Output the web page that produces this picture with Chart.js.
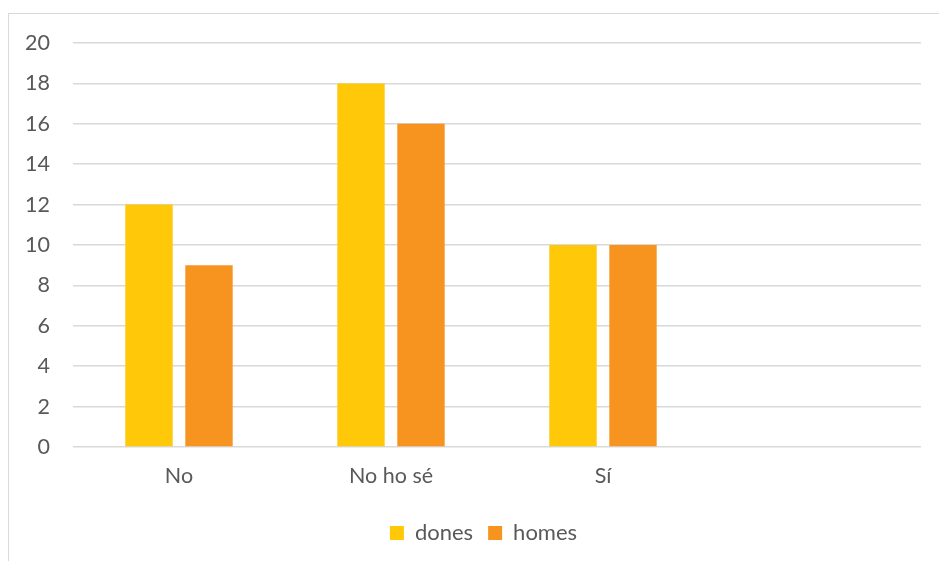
<!DOCTYPE html>
<html>
<head>
<meta charset="utf-8">
<script src="https://cdn.jsdelivr.net/npm/chart.js@4.4.0/dist/chart.umd.min.js"></script>
<style>
  body { margin: 0; overflow: hidden; background: #fff; }
  #marc { position: absolute; left: 8px; top: 13px; width: 1000px; height: 1000px; border: 1.5px solid #d9d9d9; }
  #caixa { position: absolute; left: 0; top: 0; width: 939px; height: 561px; }
</style>
</head>
<body>
<div id="marc"></div>
<div id="caixa"><canvas id="grafic"></canvas></div>
<script>
// respostes per categoria
var categories = ['No', 'No ho sé', 'Sí', ''];
var dones = [12, 18, 10, null];
var homes = [9, 16, 10, null];
var marques = [0, 2, 4, 6, 8, 10, 12, 14, 16, 18, 20];

var grisText = '#595959';
var font = { family: 'Lato, "Open Sans", sans-serif', size: 21.5 };
var fontLlegenda = { family: 'Lato, "Open Sans", sans-serif', size: 22 };

// desplaça la llegenda cap a la dreta, centrada sota la zona de dades
var movLlegenda = {
    id: 'movLlegenda',
    afterLayout: function(chart) {
        chart.legend.left += 23;
        chart.legend.right += 23;
    }
};

var ctx = document.getElementById('grafic').getContext('2d');

var config = {
    type: 'bar',
    data: {
        labels: categories,
        datasets: [
            { label: 'dones', data: dones, backgroundColor: '#FFC90A', categoryPercentage: 0.566, barPercentage: 0.79 },
            { label: 'homes', data: homes, backgroundColor: '#F79420', categoryPercentage: 0.566, barPercentage: 0.79 }
        ]
    },
    options: {
        responsive: true,
        maintainAspectRatio: false,
        animation: false,
        layout: { padding: { top: 43, right: 18, bottom: 7, left: 0 } },
        plugins: {
            legend: {
                position: 'bottom',
                labels: { boxWidth: 14, boxHeight: 14, padding: 15, color: grisText, font: fontLlegenda }
            },
            tooltip: { enabled: false }
        },
        scales: {
            x: {
                grid: { display: false },
                border: { display: false },
                ticks: { color: grisText, font: font, padding: 8 },
                afterFit: function(scale) { scale.height = 60; }
            },
            y: {
                min: 0,
                max: 20,
                afterBuildTicks: function(scale) {
                    scale.ticks = marques.map(function(v) { return { value: v }; });
                },
                grid: { color: '#d9d9d9', lineWidth: 1.5, drawTicks: false },
                border: { display: false },
                ticks: { color: grisText, font: font, padding: 23 },
                afterFit: function(scale) { scale.width = 73; }
            }
        }
    },
    plugins: [movLlegenda]
};

var chart = new Chart(ctx, config);
</script>
</body>
</html>
